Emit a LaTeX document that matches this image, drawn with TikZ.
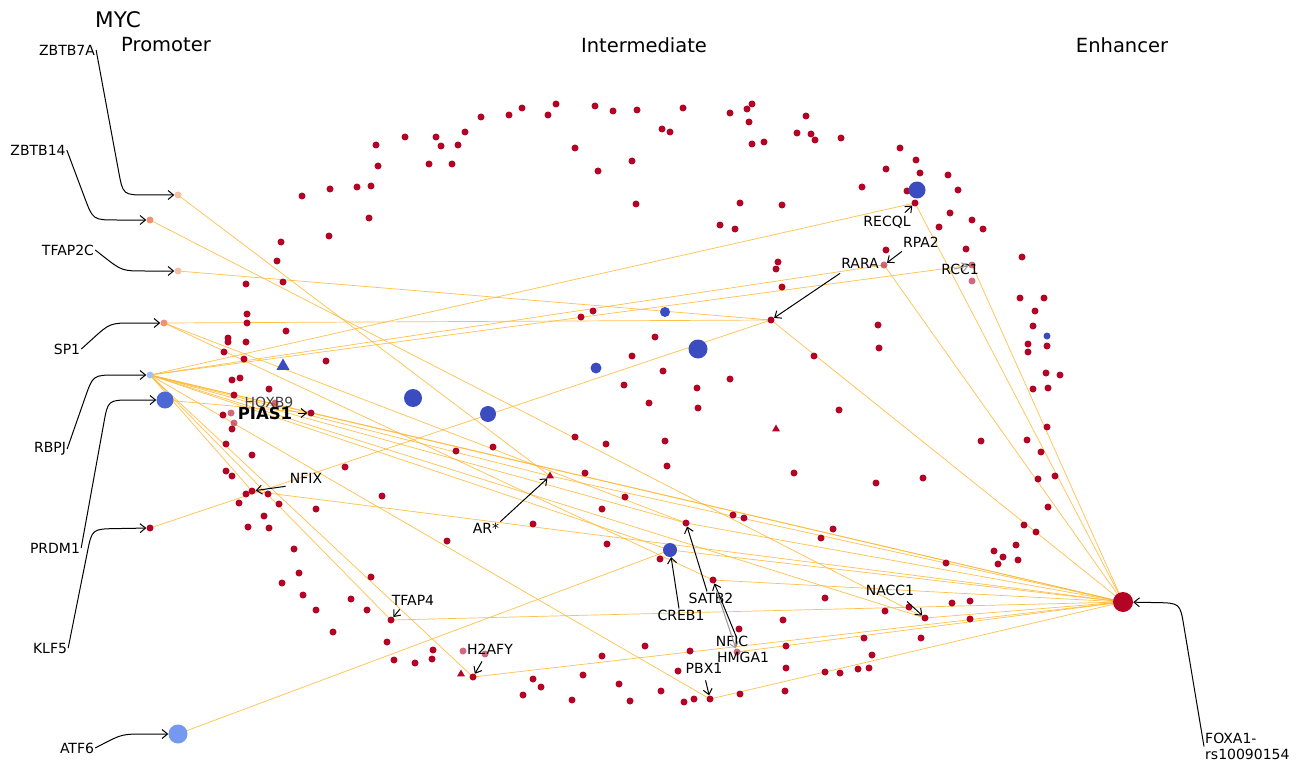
\documentclass[tikz,border=0pt]{standalone}
\usepackage{fontspec}
\setmainfont{DejaVu Sans}
\usetikzlibrary{arrows.meta,calc,backgrounds,shapes.geometric}
\definecolor{dotred}{RGB}{180,4,38}
\definecolor{dotblue}{RGB}{59,76,192}
\definecolor{midblue}{RGB}{76,104,215}
\definecolor{paleblue}{RGB}{117,152,241}
\definecolor{iceblue}{RGB}{160,192,252}
\definecolor{peach}{RGB}{246,190,162}
\definecolor{salmon}{RGB}{240,145,115}
\definecolor{linkorange}{RGB}{255,182,45}
\tikzset{
  dot/.style={circle,inner sep=0pt,minimum size=7pt,fill=dotred},
  faded/.style={dot,fill=dotred,fill opacity=0.6},
  tri/.style={regular polygon,regular polygon sides=3,inner sep=0pt,minimum size=#1},
  lbl/.style={font=\fontsize{14}{16}\selectfont,inner sep=1pt},
  head/.style={font=\fontsize{19.5}{22}\selectfont,inner sep=0pt},
  link/.style={draw=linkorange,line width=0.7pt,draw opacity=0.85},
  pointer/.style={-{Straight Barb[length=5.5pt,width=9pt]},line width=1pt},
}
% rounded elbow from a label to its node
\newcommand{\elbow}[3]{\draw[pointer] (#1) -- ($#2!24pt!(#1)$) .. controls #2 .. ($#2!24pt!(#3)$) -- (#3);}
\begin{document}
\begin{tikzpicture}[x=1pt,y=-1pt]
        \useasboundingbox (0,0) rectangle (1303,762);
        % Draw column titles
        \node[font=\fontsize{21.5}{24}\selectfont,inner sep=0pt] at (118,20) {MYC};
        \node[head] at (166,45) {Promoter};
        \node[head] at (644,45) {Intermediate};
        \node[head] at (1122,45) {Enhancer};

        % Draw background dots
        \foreach \x/\y in {302/196,330/189,357/187,371/186,376/145,378/166,369/218,329/236,281/242,277/261,283/282,246/284,
            405/137,436/137,441/146,458/145,465/132,429/164,452/164,481/117,509/115,522/108,548/115,556/104,595/106,613/111,
            637/110,575/148,598/171,632/161,636/204,662/129,670/132,683/108,730/113,747/109,752/104,749/122,806/116,797/133,
            811/134,815/140,841/138,752/144,764/142,740/203,782/205,720/225,735/229,900/148,916/160,886/169,920/173,862/187,
            907/191,948/175,958/190,950/213,939/227,972/220,983/229,966/249,886/250,1022/257,778/262,776/269,782/287,581/317,
            593/311,655/337,632/356,663/371,1020/298,1044/298,1035/311,1033/326,1028/344,1028/352,1047/346,1046/373,1060/375,
            1033/389,1048/388,1047/427,981/441,1027/440,1041/452,1038/479,1055/476,1048/507,1024/525,1036/532,994/551,1003/557,
            1016/545,998/564,1018/560,814/356,878/325,879/348,730/379,697/388,698/408,649/403,839/410,665/441,667/466,624/385,
            606/444,575/437,585/473,794/473,876/483,923/478,625/497,602/509,733/515,744/518,833/529,821/538,607/544,660/559,
            946/563,825/598,783/620,885/611,909/607,952/603,970/601,970/619,921/638,864/638,872/655,858/669,869/668,840/673,
            825/672,786/646,786/668,785/691,456/451,493/447,345/467,382/496,447/541,533/524,326/361,286/331,247/314,247/323,
            228/338,228/342,246/342,224/352,244/359,232/380,240/378,269/389,234/395,223/415,232/429,226/444,252/455,226/471,
            232/476,246/494,268/494,239/503,279/504,316/509,264/516,248/527,269/528,294/549,299/573,282/583,303/595,316/610,
            333/632,351/599,371/577,367/610,387/642,394/660,415/663,432/659,433/650,523/695,533/679,541/687,572/700,583/675,
            602/656,619/684,630/701,645/646,661/691,678/671,684/702,690/651,694/699,740/694,739/629}
            \fill[dotred] (\x,\y) circle[radius=3.5pt];
        \foreach \x/\y in {231/413,234/423,463/651,485/654,972/281}
            \fill[dotred,fill opacity=0.6] (\x,\y) circle[radius=3.5pt];
        \foreach \x/\y/\r in {413/398/9,488/414/8,596/368/5.5,665/312/5,698/349/9.5,917/190/8.5,1047/336/3.5}
            \fill[dotblue] (\x,\y) circle[radius=\r pt];
        \node[tri=15pt,fill=dotblue] at (283,366) {};
        \node[tri=9pt,fill=dotred] at (776,429) {};
        \node[tri=9pt,fill=dotred] at (461,674) {};

        % Draw promoter nodes
        \node[dot,fill=peach] (zbtb7a) at (178,195) {};
        \node[dot,fill=salmon] (zbtb14) at (150,220) {};
        \node[dot,fill=peach] (tfap2c) at (178,271) {};
        \node[dot,fill=salmon] (sp1) at (164,323) {};
        \node[dot,fill=iceblue] (rbpj) at (150,375) {};
        \node[dot,fill=midblue,minimum size=17pt] (prdm1) at (165,400) {};
        \node[dot] (klf5) at (150,528) {};
        \node[dot,fill=paleblue,minimum size=19pt] (atf6) at (178,734) {};
        % Draw enhancer node
        \node[dot,minimum size=20pt] (foxa1) at (1123,602) {};

        % Draw intermediate nodes
        \node[dot] (recql) at (915,203) {};
        \node[faded] (rpa2) at (884,265) {};
        \node[faded] (rcc1) at (972,265) {};
        \node[dot] (rara) at (771,320) {};
        \node[dot] (pias1) at (311,413) {};
        \node[faded] (hoxb9) at (275,403) {};
        \node[dot] (nfix) at (252,491) {};
        \node[tri=9pt,fill=dotred] (ar) at (550,476) {};
        \node[dot] (tfap4) at (391,620) {};
        \node[dot] (h2afy) at (473,677) {};
        \node[dot] (pbx1) at (710,699) {};
        \node[dot] (satb2) at (686,523) {};
        \node[dot,fill=dotblue,minimum size=14pt] (creb1) at (670,550) {};
        \node[dot] (nfic) at (713,580) {};
        \node[faded] (hmga1) at (737,652) {};
        \node[dot] (nacc1) at (925,618) {};

        % Draw links behind the dots
        \begin{pgfonlayer}{background}
            \fill[white] (0,0) rectangle (1303,762);
            \draw[link] (zbtb7a.center) -- (ar.center);
            \draw[link] (zbtb14.center) -- (nacc1.center);
            \draw[link] (tfap2c.center) -- (rara.center);
            \draw[link] (klf5.center) -- (rara.center);
            \draw[link] (atf6.center) -- (creb1.center);
            \draw[link] (prdm1.center) -- (pias1.center);
            \foreach \t in {rara,satb2,nfic}
                \draw[link] (sp1.center) -- (\t.center);
            \foreach \t in {recql,rpa2,rcc1,pias1,nfix,tfap4,h2afy,pbx1,ar,creb1,nacc1,satb2,foxa1}
                \draw[link] (rbpj.center) -- (\t.center);
            \foreach \t in {recql,rpa2,rcc1,rara,pias1,nfix,ar,satb2,creb1,nfic,nacc1,tfap4,h2afy,pbx1,hmga1}
                \draw[link] (foxa1.center) -- (\t.center);
        \end{pgfonlayer}

        % Draw promoter labels
        \node[lbl] (zbtb7a-lab) at (67,50) {ZBTB7A};
        \node[lbl] (zbtb14-lab) at (38,150) {ZBTB14};
        \node[lbl] (tfap2c-lab) at (68,250) {TFAP2C};
        \node[lbl] (sp1-lab) at (67,349) {SP1};
        \node[lbl] (rbpj-lab) at (50,449) {RBPJ};
        \node[lbl] (prdm1-lab) at (55,548) {PRDM1};
        \node[lbl] (klf5-lab) at (50,648) {KLF5};
        \node[lbl] (atf6-lab) at (77,748) {ATF6};
        \node[lbl,anchor=north west,align=left] (foxa1-lab) at (1204,732) {FOXA1-\\rs10090154};
        \elbow{zbtb7a-lab.east}{(123,195)}{zbtb7a}
        \elbow{zbtb14-lab.east}{(93,220)}{zbtb14}
        \elbow{tfap2c-lab.east}{(122,271)}{tfap2c}
        \elbow{sp1-lab.east}{(110,323)}{sp1}
        \elbow{rbpj-lab.east}{(93,375)}{rbpj}
        \elbow{prdm1-lab.east}{(108,400)}{prdm1}
        \elbow{klf5-lab.east}{(92,529)}{klf5}
        \elbow{atf6-lab.east}{(122,734)}{atf6}
        \elbow{foxa1-lab.west}{(1180,603)}{foxa1}

        % Draw intermediate labels
        \node[lbl,text=black!75] (hoxb9-lab) at (269,402) {HOXB9};
        \node[lbl,font=\fontsize{16.5}{18}\bfseries] (pias1-lab) at (265,413) {PIAS1};
        \node[lbl] (nfix-lab) at (306,478) {NFIX};
        \node[lbl] (ar-lab) at (486,528) {AR*};
        \node[lbl] (tfap4-lab) at (413,600) {TFAP4};
        \node[lbl] (h2afy-lab) at (490,649) {H2AFY};
        \node[lbl] (pbx1-lab) at (704,668) {PBX1};
        \node[lbl] (satb2-lab) at (711,598) {SATB2};
        \node[lbl] (creb1-lab) at (681,615) {CREB1};
        \node[lbl] (nfic-lab) at (732,641) {NFIC};
        \node[lbl] (hmga1-lab) at (743,657) {HMGA1};
        \node[lbl] (nacc1-lab) at (890,590) {NACC1};
        \node[lbl] (recql-lab) at (887,222) {RECQL};
        \node[lbl] (rpa2-lab) at (921,242) {RPA2};
        \node[lbl] (rara-lab) at (860,263) {RARA};
        \node[lbl] (rcc1-lab) at (960,269) {RCC1};

        % Draw label pointers
        \draw[pointer,shorten <=5pt] (pias1-lab.east) -- (pias1);
        \draw[pointer] ([xshift=-3pt,yshift=-2pt]nfix-lab.south west) -- (nfix);
        \draw[pointer] (ar-lab.north east) -- (ar);
        \draw[pointer] ([xshift=9pt,yshift=-3pt]tfap4-lab.south west) -- (tfap4);
        \draw[pointer] ([xshift=16pt,yshift=-6pt]h2afy-lab.south west) -- (h2afy);
        \draw[pointer] ([xshift=21pt,yshift=-6pt]pbx1-lab.south west) -- (pbx1);
        \draw[pointer] ([xshift=-4pt]satb2-lab.north) -- (satb2);
        \draw[pointer] ([xshift=-2pt]creb1-lab.north) -- (creb1);
        \draw[pointer] ([xshift=5pt,yshift=-4pt]nfic-lab.north) -- (nfic);
        \draw[pointer,gray!80,shorten <=8pt] (nfic) -- (hmga1);
        \draw[pointer] ([xshift=17pt,yshift=-5pt]nacc1-lab.south) -- (nacc1);
        \draw[pointer] ([xshift=-7pt,yshift=2pt]recql-lab.north east) -- (recql);
        \draw[pointer] ([yshift=-3pt]rpa2-lab.south west) -- (rpa2);
        \draw[pointer] ([yshift=-4pt]rara-lab.south west) -- (rara);
        \draw[pointer,gray!80] ([xshift=-6pt]rcc1-lab.center) -- (rcc1);
    \end{tikzpicture}
\end{document}
